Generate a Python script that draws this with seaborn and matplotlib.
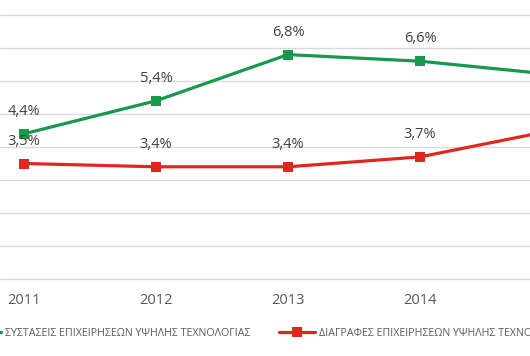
import pandas as pd
import seaborn as sns
import matplotlib.pyplot as plt

# values (percent)
years = ["2011", "2012", "2013", "2014", "2015"]
founded = [4.4, 5.4, 6.8, 6.6, 6.2]
deleted = [3.5, 3.4, 3.4, 3.7, 4.5]
series_names = ["ΣΥΣΤΑΣΕΙΣ ΕΠΙΧΕΙΡΗΣΕΩΝ ΥΨΗΛΗΣ ΤΕΧΝΟΛΟΓΙΑΣ",
                "ΔΙΑΓΡΑΦΕΣ ΕΠΙΧΕΙΡΗΣΕΩΝ ΥΨΗΛΗΣ ΤΕΧΝΟΛΟΓΙΑΣ"]
colors = ["#17984a", "#e0271f"]


def fmt(v):
    return f"{v:.1f}".replace(".", ",") + "%"


def make_chart():
    sns.set_theme(style="white")
    plt.rcParams["font.family"] = ["Open Sans", "DejaVu Sans"]

    df = pd.DataFrame({
        "pos": list(range(len(years))) * 2,
        "value": founded + deleted,
        "series": [series_names[0]] * len(years) + [series_names[1]] * len(years),
    })

    fig = plt.figure(figsize=(5.3, 3.56), dpi=100)
    ax = fig.add_axes([0, 77 / 356, 1, 264 / 356])

    sns.lineplot(data=df, x="pos", y="value", hue="series",
                 palette=dict(zip(series_names, colors)), marker="s",
                 markersize=7, markeredgewidth=0, linewidth=2.3,
                 legend=False, ax=ax)

    # data labels above points
    for vals in (founded, deleted):
        for i, v in enumerate(vals):
            ax.annotate(fmt(v), (i, v), xytext=(0, 16), textcoords="offset points",
                        ha="center", va="center", fontsize=10.5, color="#404040")

    ax.set_yticks(range(0, 9))
    ax.set_yticklabels([])
    ax.yaxis.grid(True, color="#d9d9d9", linewidth=1)
    for gl in ax.get_ygridlines():
        gl.set_clip_on(False)
    ax.set_axisbelow(True)
    ax.set_xticks(range(len(years)))
    ax.set_xticklabels(years, fontsize=10.5, color="#595959")
    # chart is cropped: 2011 sits near the left edge, 2015 falls off the right
    ax.set_ylim(0, 8)
    ax.set_xlim(-24 / 132, 506 / 132)
    ax.tick_params(axis="x", length=0, pad=10)
    ax.tick_params(axis="y", length=0)
    ax.set_xlabel("")
    ax.set_ylabel("")
    for s in ax.spines.values():
        s.set_visible(False)

    handles = [plt.Line2D([], [], color=c, linewidth=2.3, marker="s",
                          markersize=7, markeredgewidth=0) for c in colors]
    fig.legend(handles, series_names, ncol=2, loc="center left",
               bbox_to_anchor=(-35 / 530, 1 - 333 / 356), frameon=False,
               fontsize=7.7, handlelength=3.37, handletextpad=0.37,
               columnspacing=2.7, borderpad=0, borderaxespad=0,
               labelcolor="#595959")

    fig.savefig("out.png", dpi=100)


if __name__ == "__main__":
    make_chart()
